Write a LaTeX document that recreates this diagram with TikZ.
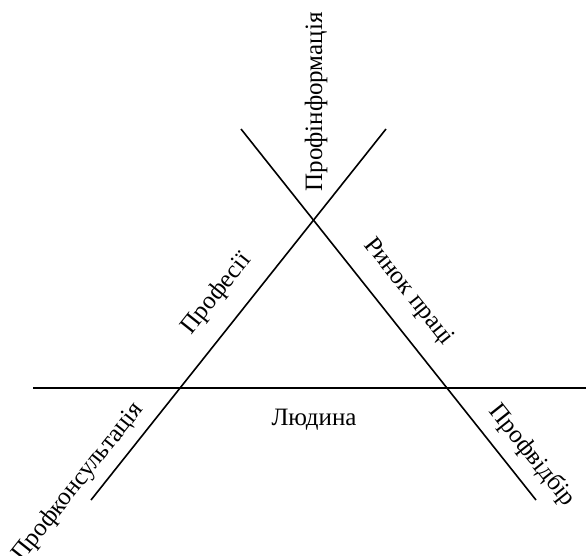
\documentclass[tikz,border=0pt]{standalone}
\usepackage{fontspec}
\setmainfont{Liberation Serif}
\begin{document}
\begin{tikzpicture}[x=1pt,y=-1pt,
  axis/.style={line width=1.6pt,black},
  lbl/.style={anchor=base,inner sep=0pt,font=\fontsize{25}{29}\selectfont}]
\useasboundingbox (0,0) rectangle (586,556);
\coordinate (hl) at (33,388);
\coordinate (hr) at (586,388);
\coordinate (at) at (386,129);
\coordinate (ab) at (91,500);
\coordinate (bt) at (241,129);
\coordinate (bb) at (536,500);
\draw[axis] (hl) -- (hr);
\draw[axis] (at) -- (ab);
\draw[axis] (bt) -- (bb);
\node[lbl] (ludyna) at (314,425) {Людина};
\node[lbl,rotate=90] (pinf) at (322,102) {Профінформація};
\node[lbl,rotate=51.5] (prof) at (221.6,298) {Професії};
\node[lbl,rotate=51.5] (pkons) at (83,486) {Профконсультація};
\node[lbl,rotate=-51.5] (rynok) at (403.6,295.5) {Ринок праці};
\node[lbl,rotate=-51.5] (pvid) at (527,459.5) {Профвідбір};
\end{tikzpicture}
\end{document}
